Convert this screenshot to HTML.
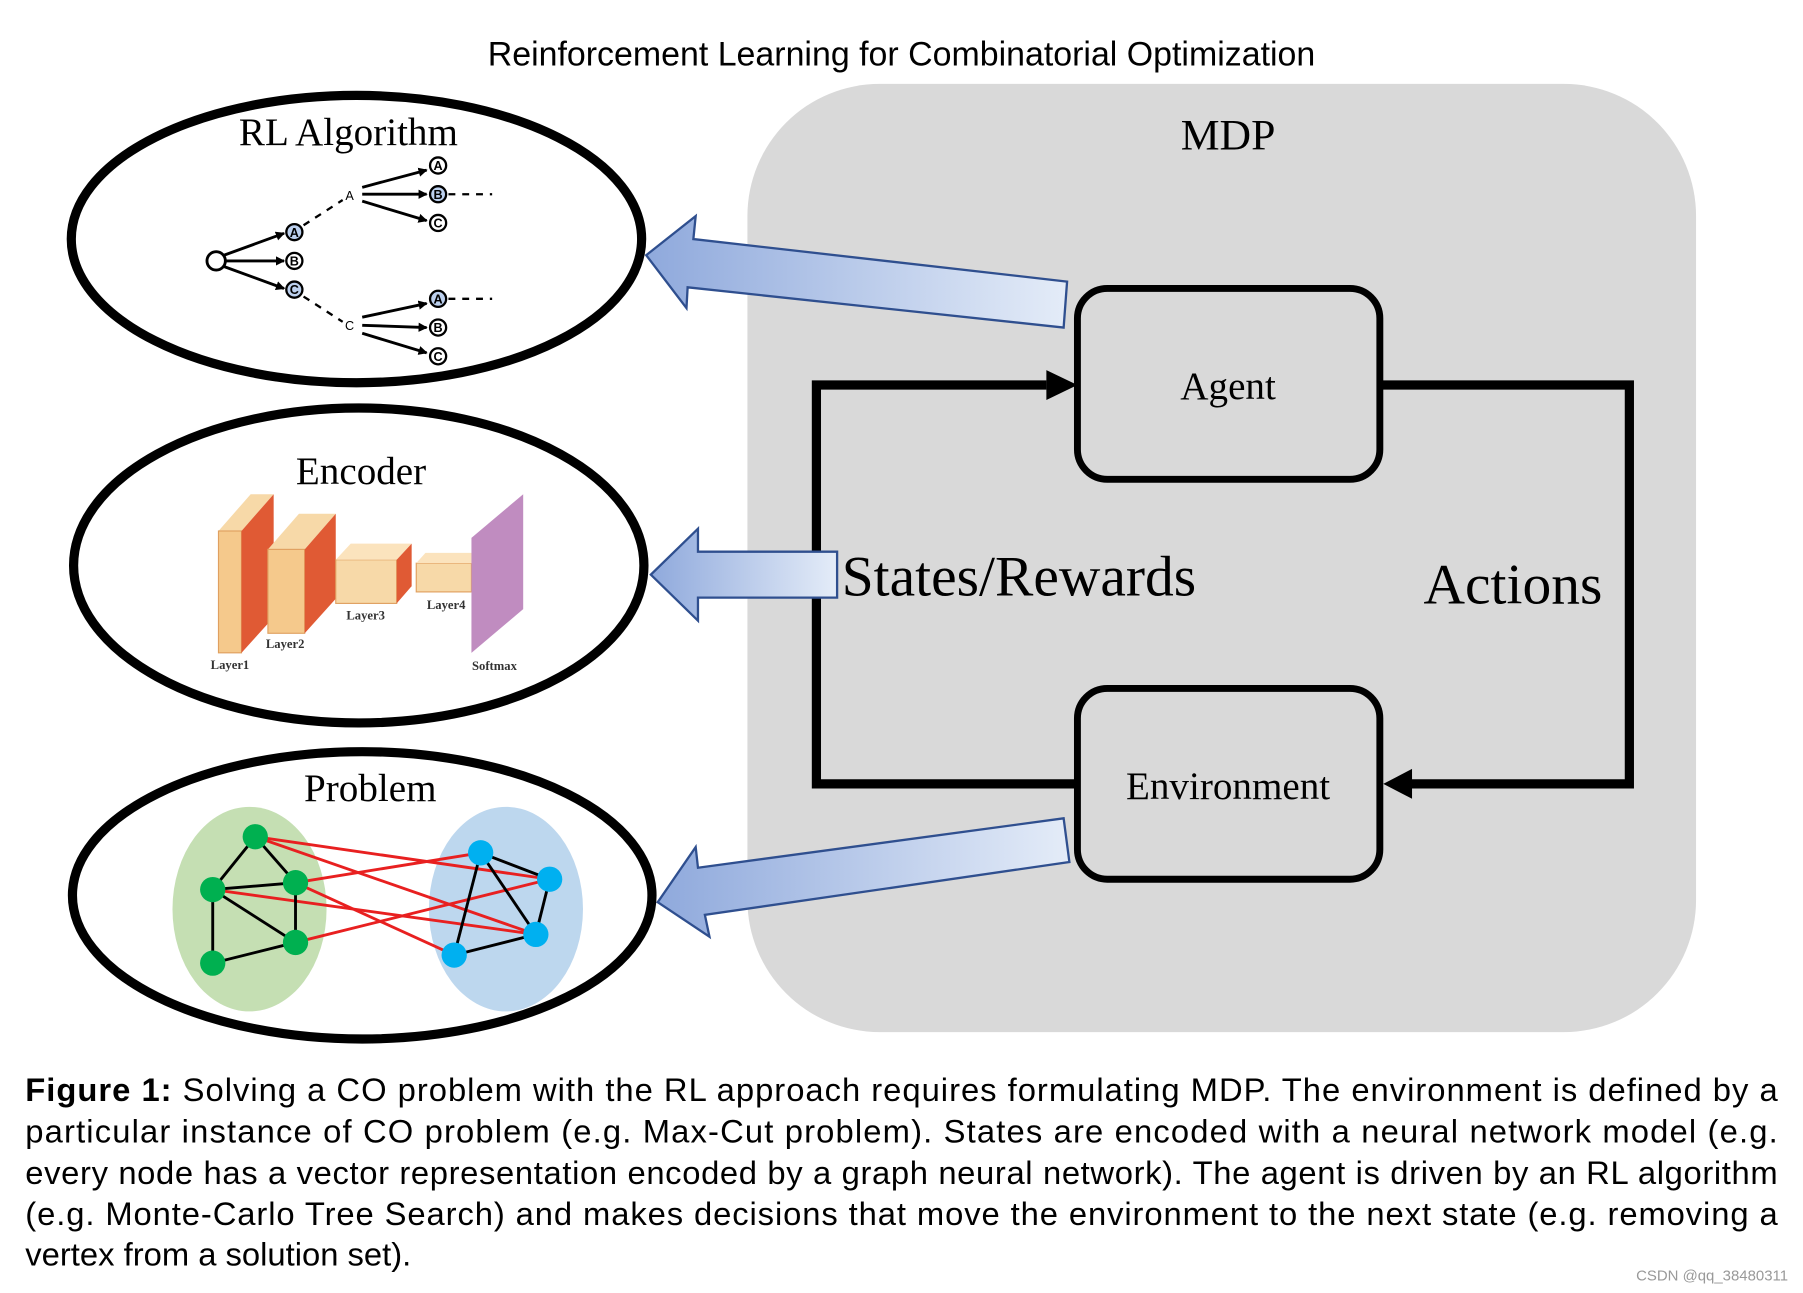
<!DOCTYPE html>
<html><head><meta charset="utf-8"><style>html,body{margin:0;padding:0;background:#fff}svg{display:block}</style></head>
<body>
<svg width="1803" height="1293" viewBox="0 0 1568 1125" preserveAspectRatio="none" xmlns="http://www.w3.org/2000/svg">
<defs>
<linearGradient id="bg1" x1="0" y1="0" x2="1" y2="0"><stop offset="0" stop-color="#8fa9dc"/><stop offset="1" stop-color="#e4ecf8"/></linearGradient>
<marker id="ah" markerWidth="8" markerHeight="8" refX="7" refY="4" orient="auto" markerUnits="userSpaceOnUse"><path d="M0,0 L8,4 L0,8 z" fill="#000"/></marker>
</defs>
<rect width="1568" height="1125" fill="#fff"/>
<text x="784" y="57" font-family="Liberation Sans, sans-serif" font-size="29.5" text-anchor="middle">Reinforcement Learning for Combinatorial Optimization</text>
<rect x="650" y="73" width="825" height="825" rx="115" fill="#d9d9d9"/>
<text x="1068" y="130" font-family="Liberation Serif, serif" font-size="38" text-anchor="middle">MDP</text>
<g fill="none" stroke="#000" stroke-width="8">
<polyline points="910,335 710,335 710,682 937,682"/>
<polyline points="1200,335 1417,335 1417,682 1225,682"/>
</g>
<polygon points="910,322 937,335 910,348" fill="#000"/>
<polygon points="1228,669 1203,682 1228,695" fill="#000"/>
<rect x="937" y="251" width="263" height="166" rx="26" fill="none" stroke="#000" stroke-width="6"/>
<rect x="937" y="599" width="263" height="166" rx="26" fill="none" stroke="#000" stroke-width="6"/>
<text x="1068" y="347" font-family="Liberation Serif, serif" font-size="34" text-anchor="middle">Agent</text>
<text x="1068" y="695" font-family="Liberation Serif, serif" font-size="34" text-anchor="middle">Environment</text>
<text x="732" y="518" font-family="Liberation Serif, serif" font-size="50">States/Rewards</text>
<text x="1238" y="525" font-family="Liberation Serif, serif" font-size="50">Actions</text>
<g fill="url(#bg1)" stroke="#2f4f8f" stroke-width="2">
<polygon points="928,245 603,208 605,188 562,222 597,268 598,250 925,285"/>
<polygon points="728,480 607,480 607,460 566,500 607,540 607,520 728,520"/>
<polygon points="925,712 607,755 605,737 572,785 617,815 613,796 930,750"/>
</g>
<g fill="#fff" stroke="#000" stroke-width="8">
<ellipse cx="310" cy="208" rx="248" ry="125"/>
<ellipse cx="312" cy="492" rx="248" ry="137"/>
<ellipse cx="315" cy="779" rx="252" ry="125"/>
</g>
<text x="303" y="126" font-family="Liberation Serif, serif" font-size="34" text-anchor="middle">RL Algorithm</text>
<text x="314" y="421" font-family="Liberation Serif, serif" font-size="34" text-anchor="middle">Encoder</text>
<text x="322" y="697" font-family="Liberation Serif, serif" font-size="34" text-anchor="middle">Problem</text>
<g stroke="#000" stroke-width="2.5" fill="none">
<line x1="195" y1="222" x2="247" y2="203" marker-end="url(#ah)"/>
<line x1="196" y1="227" x2="247" y2="227" marker-end="url(#ah)"/>
<line x1="195" y1="232" x2="247" y2="251" marker-end="url(#ah)"/>
<line x1="315" y1="163" x2="371" y2="148" marker-end="url(#ah)"/>
<line x1="315" y1="169" x2="371" y2="169" marker-end="url(#ah)"/>
<line x1="315" y1="175" x2="371" y2="192" marker-end="url(#ah)"/>
<line x1="315" y1="276" x2="371" y2="264" marker-end="url(#ah)"/>
<line x1="315" y1="283" x2="371" y2="285" marker-end="url(#ah)"/>
<line x1="315" y1="290" x2="371" y2="307" marker-end="url(#ah)"/>
<g stroke-dasharray="6,6" stroke-width="2">
<line x1="264" y1="196" x2="298" y2="174"/><line x1="264" y1="258" x2="298" y2="280"/>
<line x1="390" y1="169" x2="428" y2="169"/><line x1="390" y1="260" x2="428" y2="260"/>
</g>
<circle cx="188" cy="227" r="8" stroke-width="2.5"/>
</g>
<g font-family="Liberation Sans, sans-serif" font-size="11" text-anchor="middle" font-weight="bold">
<g stroke="#000" stroke-width="2"><circle cx="256" cy="202" r="7" fill="#bcd0ee"/><circle cx="256" cy="227" r="7" fill="#fff"/><circle cx="256" cy="252" r="7" fill="#bcd0ee"/>
<circle cx="381" cy="144" r="7" fill="#fff"/><circle cx="381" cy="169" r="7" fill="#bcd0ee"/><circle cx="381" cy="194" r="7" fill="#fff"/>
<circle cx="381" cy="260" r="7" fill="#bcd0ee"/><circle cx="381" cy="285" r="7" fill="#fff"/><circle cx="381" cy="310" r="7" fill="#fff"/></g>
<text x="256" y="206">A</text><text x="256" y="231">B</text><text x="256" y="256">C</text>
<text x="381" y="148">A</text><text x="381" y="173">B</text><text x="381" y="198">C</text>
<text x="381" y="264">A</text><text x="381" y="289">B</text><text x="381" y="314">C</text>
<text x="304" y="174" font-weight="normal">A</text><text x="304" y="287" font-weight="normal">C</text>
</g>
<g>
<polygon points="190,462 218,430 238,430 210,462" fill="#f7d9a8"/>
<rect x="190" y="462" width="20" height="106" fill="#f5c98c" stroke="#e0a060"/>
<polygon points="210,462 238,430 238,537 210,568" fill="#e05a34"/>
<polygon points="233,478 260,447 292,447 265,478" fill="#f7d9a8"/>
<rect x="233" y="478" width="32" height="73" fill="#f5c98c" stroke="#e0a060"/>
<polygon points="265,478 292,447 292,521 265,551" fill="#e05a34"/>
<rect x="292" y="487" width="53" height="38" fill="#f7d9a8" stroke="#e0a060"/>
<polygon points="292,487 305,473 358,473 345,487" fill="#fbe3bd"/>
<polygon points="345,487 358,473 358,510 345,525" fill="#e05a34"/>
<rect x="362" y="490" width="48" height="25" fill="#f7d9a8" stroke="#e0a060"/>
<polygon points="362,490 370,481 420,481 410,490" fill="#fbe3bd"/>
<polygon points="410,468 455,430 455,530 410,568" fill="#c08cc0"/>
</g>
<g font-family="Liberation Serif, serif" font-size="11" font-weight="bold" fill="#333" text-anchor="middle">
<text x="200" y="582">Layer1</text><text x="248" y="564">Layer2</text><text x="318" y="539">Layer3</text><text x="388" y="530">Layer4</text><text x="430" y="583">Softmax</text>
</g>
<ellipse cx="217" cy="791" rx="67" ry="89" fill="#c5dfb3"/>
<ellipse cx="440" cy="791" rx="67" ry="89" fill="#bdd7ee"/>
<g stroke="#e82020" stroke-width="2.5">
<line x1="222" y1="728" x2="466" y2="813"/><line x1="222" y1="728" x2="478" y2="765"/>
<line x1="185" y1="774" x2="466" y2="813"/><line x1="257" y1="768" x2="418" y2="742"/>
<line x1="257" y1="820" x2="478" y2="765"/><line x1="257" y1="768" x2="395" y2="831"/>
</g>
<g stroke="#000" stroke-width="2.5">
<line x1="222" y1="728" x2="185" y2="774"/><line x1="222" y1="728" x2="257" y2="768"/>
<line x1="185" y1="774" x2="257" y2="768"/><line x1="185" y1="774" x2="257" y2="820"/>
<line x1="185" y1="774" x2="185" y2="838"/><line x1="257" y1="768" x2="257" y2="820"/>
<line x1="185" y1="838" x2="257" y2="820"/>
<line x1="418" y1="742" x2="478" y2="765"/><line x1="418" y1="742" x2="466" y2="813"/>
<line x1="418" y1="742" x2="395" y2="831"/><line x1="478" y1="765" x2="466" y2="813"/>
<line x1="395" y1="831" x2="466" y2="813"/>
</g>
<g fill="#00b050"><circle cx="222" cy="728" r="11"/><circle cx="185" cy="774" r="11"/><circle cx="257" cy="768" r="11"/><circle cx="257" cy="820" r="11"/><circle cx="185" cy="838" r="11"/></g>
<g fill="#00b0f0"><circle cx="418" cy="742" r="11"/><circle cx="478" cy="765" r="11"/><circle cx="466" cy="813" r="11"/><circle cx="395" cy="831" r="11"/></g>
<g font-family="Liberation Sans, sans-serif" font-size="28.5">
<text x="22" y="958" textLength="1524" lengthAdjust="spacing"><tspan font-weight="bold">Figure 1:</tspan> Solving a CO problem with the RL approach requires formulating MDP. The environment is defined by a</text>
<text x="22" y="994" textLength="1524" lengthAdjust="spacing">particular instance of CO problem (e.g.  Max-Cut problem).  States are encoded with a neural network model (e.g.</text>
<text x="22" y="1030" textLength="1524" lengthAdjust="spacing">every node has a vector representation encoded by a graph neural network). The agent is driven by an RL algorithm</text>
<text x="22" y="1066" textLength="1524" lengthAdjust="spacing">(e.g.  Monte-Carlo Tree Search) and makes decisions that move the environment to the next state (e.g.  removing a</text>
<text x="22" y="1101">vertex from a solution set).</text>
</g>
<text x="1555" y="1114" font-family="Liberation Sans, sans-serif" font-size="13" fill="#999" text-anchor="end">CSDN @qq_38480311</text>
</svg>
</body></html>
